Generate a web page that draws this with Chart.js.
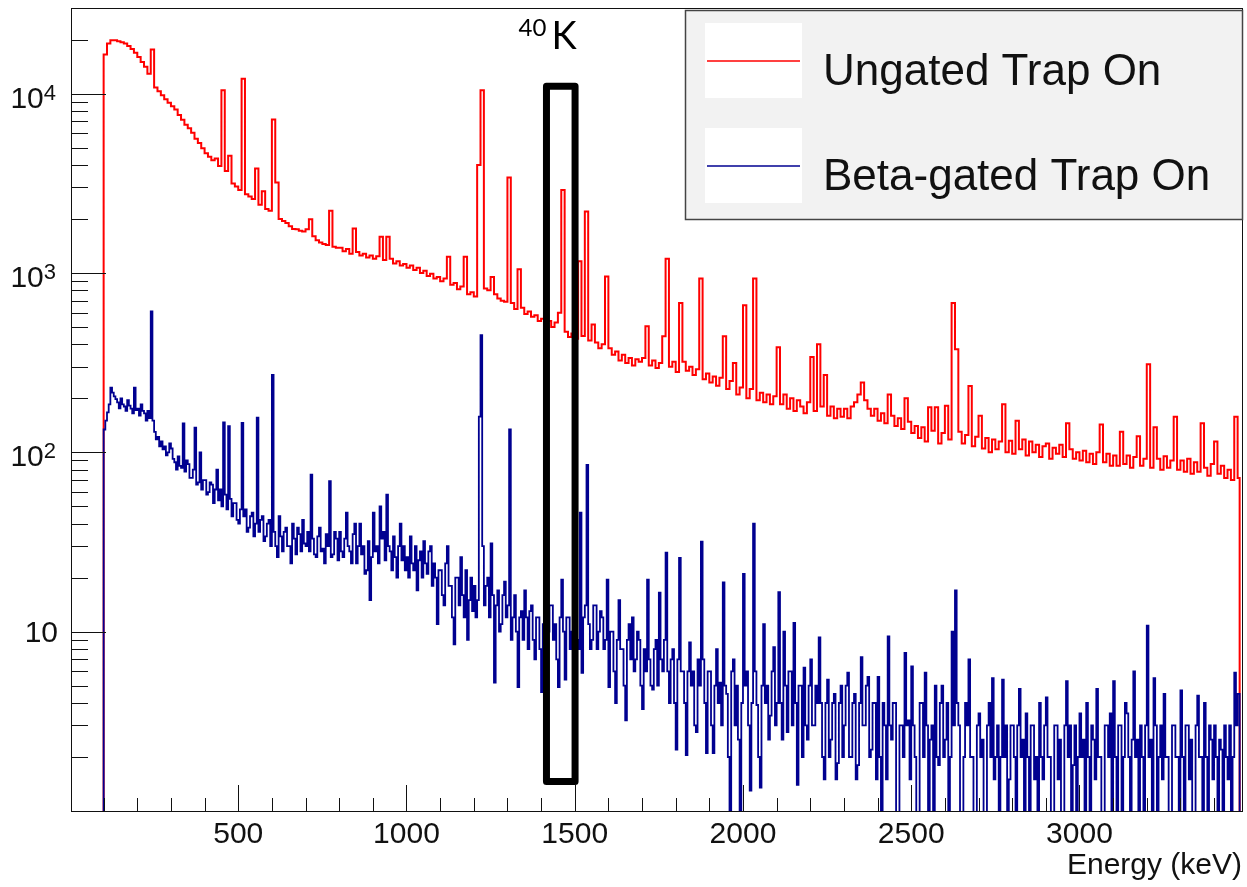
<!DOCTYPE html>
<html>
<head>
<meta charset="utf-8">
<script src="https://cdn.jsdelivr.net/npm/chart.js@4.4.1/dist/chart.umd.min.js"></script>
<style>
  html, body { margin: 0; padding: 0; background: #fff; }
</style>
</head>
<body>
<canvas id="spec" width="1247" height="887"></canvas>
<script>
// --- data: counts per bin (0 = empty bin) ---
const BIN_START = 100; // keV, lower edge of first bin
const LAST_EDGE = 3476; // upper edge of the last bin
const UNGATED_BIN = 10; // keV
const GATED_BIN = 5;    // keV

// ungated, 10 keV bins
const ungated = [
  16500, 19000, 19800, 19800, 19600, 19300, 19000, 18400, 17700, 16900, // 100
  16000, 15000, 14100, 12900, 17600, 10800, 10300, 9800, 9300, 8900,    // 200
  8500, 8150, 7600, 7150, 6700, 6400, 6050, 5600, 5300, 4950,           // 300
  4650, 4450, 4250, 4340, 3950, 10420, 3700, 4500, 3150, 3030,          // 400
  2900, 12100, 2750, 2670, 2580, 3820, 2400, 2850, 2270, 2220,          // 500
  7170, 3190, 2000, 1950, 1900, 1820, 1760, 1750, 1720, 1700,           // 600
  1750, 1990, 1600, 1520, 1480, 1450, 1430, 2220, 1400, 1380,           // 700
  1380, 1320, 1360, 1280, 1770, 1310, 1250, 1280, 1220, 1250,           // 800
  1200, 1240, 1590, 1180, 1590, 1200, 1130, 1160, 1100, 1120,           // 900
  1070, 1100, 1040, 1070, 1000, 1030, 960, 990, 930, 950,               // 1000
  900, 930, 1230, 860, 880, 810, 840, 1230, 760, 780,                   // 1100
  740, 4000, 10440, 820, 800, 950, 760, 720, 700, 690,                  // 1200
  3400, 680, 630, 1050, 640, 590, 610, 570, 580, 540,                   // 1300
  555, 520, 540, 500, 530, 600, 2900, 470, 440, 460,                    // 1400
  430, 1160, 445, 2200, 420, 515, 410, 380, 400, 955,                   // 1500
  380, 350, 365, 325, 350, 315, 335, 305, 330, 320,                     // 1600
  335, 505, 305, 325, 295, 315, 443, 1200, 300, 320,                    // 1700
  280, 680, 320, 285, 300, 270, 290, 930, 255, 275,                     // 1800
  245, 265, 235, 260, 443, 225, 250, 315, 210, 230,                     // 1900
  660, 200, 225, 930, 195, 215, 190, 210, 185, 205,                     // 2000
  385, 185, 210, 175, 200, 170, 195, 180, 165, 190,                     // 2100
  340, 170, 400, 180, 270, 160, 180, 155, 175, 158,                     // 2200
  175, 155, 180, 190, 210, 245, 195, 175, 160, 175,                     // 2300
  150, 165, 145, 210, 160, 140, 155, 135, 200, 148,                     // 2400
  128, 140, 120, 138, 115, 178, 132, 178, 112, 128,                     // 2500
  182, 118, 680, 375, 130, 112, 125, 234, 108, 122,                     // 2600
  160, 105, 120, 100, 118, 104, 115, 185, 100, 116,                     // 2700
  98, 150, 104, 118, 96, 115, 100, 110, 94, 108,                        // 2800
  112, 92, 106, 98, 110, 94, 145, 104, 92, 100,                         // 2900
  90, 102, 88, 98, 86, 100, 143, 88, 98, 84,                            // 3000
  96, 84, 130, 86, 96, 82, 94, 123, 84, 92,                             // 3100
  310, 82, 138, 92, 80, 95, 82, 90, 158, 80,                            // 3200
  90, 78, 92, 76, 88, 78, 145, 82, 74, 86,                              // 3300
  115, 76, 84, 72, 80, 70, 158, 72,                                     // 3400
];

// beta-gated, 5 keV bins
const betaGated = [
  134, 150, 167, 185, 229, 215, 205, 198, 190, 176, 200, 185, 180, 170, 195, 182, 175, 165, 229, 172, // 100
  175, 160, 185, 170, 165, 150, 170, 155, 610, 150, 130, 118, 122, 108, 115, 104, 108, 96, 100, 112,  // 200
  105, 92, 88, 80, 95, 84, 82, 145, 78, 90, 86, 72, 72, 80, 137, 66, 68, 100, 62, 70,                 // 300
  70, 58, 60, 68, 66, 52, 62, 80, 54, 62, 50, 147, 58, 48, 140, 55, 44, 52, 52, 42,                   // 400
  40, 48, 146, 44, 48, 36, 38, 44, 46, 34, 40, 156, 36, 42, 44, 32, 34, 40, 42, 30,                   // 500
  270, 36, 30, 26, 44, 34, 28, 36, 38, 30, 30, 24, 40, 33, 27, 38, 35, 28, 42, 31,                    // 600
  30, 36, 28, 75, 33, 27, 26, 34, 38, 28, 29, 24, 35, 30, 69, 26, 27, 36, 33, 25,                     // 700
  36, 28, 26, 33, 46, 30, 28, 24, 35, 40, 24, 30, 40, 27, 30, 21, 22, 32, 15, 26,                     // 800
  46, 28, 30, 24, 50, 33, 36, 25, 58, 30, 28, 22, 34, 26, 20, 30, 40, 25, 30, 22,                     // 900
  26, 20, 34, 24, 22, 30, 17, 25, 28, 20, 32, 24, 21, 28, 30, 18, 24, 20, 11, 22,                     // 1000
  22, 16, 14, 24, 30, 18, 18, 12, 8.5, 20, 20, 14, 26, 16, 12, 22, 9, 15, 20, 13,                     // 1100
  18, 12, 15, 158, 450, 30, 14, 18, 20, 12, 31, 16, 5.2, 14, 17, 10, 11, 16, 19, 12,                  // 1200
  14, 134, 9, 12, 16, 10, 4.9, 12, 13, 9, 17, 12, 8, 13, 14, 9, 7, 12, 12, 8,                         // 1300
  4.6, 11, 12, 8, 10, 14, 14, 9, 11, 7, 4.9, 12, 19.5, 10, 5.4, 12, 12, 8, 10, 13,                    // 1400
  15, 9, 8, 46, 5.9, 12, 14, 85, 11, 8, 9, 14, 14, 8, 10, 13, 12, 8, 9, 19.5,                         // 1500
  4.9, 10, 10, 6, 4.0, 9, 15, 8, 8, 5, 3.2, 9, 11, 7, 12, 6, 7, 10, 9, 5,                             // 1600
  3.7, 8, 6, 19.5, 7, 5, 4.75, 8, 9, 5, 16.5, 7, 6, 9, 27.6, 6, 4, 7, 8, 4,                           // 1700
  2.2, 7, 25.8, 6, 6, 4, 2.05, 6, 8.7, 5, 6, 3, 2.75, 7, 5, 31.8, 7, 4, 2.1, 6,                       // 1800
  6, 3, 2.1, 5, 8, 4, 5.2, 3, 18.8, 5, 4.5, 2, 0, 6, 7, 3, 5, 2.5, 0, 4,                              // 1900
  21, 5, 6, 3, 1.3, 4, 40, 6, 3.9, 2, 1.35, 5, 11, 4, 5, 2.5, 3.4, 6, 8.2, 3,                         // 2000
  4, 16.6, 4, 2.5, 10, 5, 2.75, 6, 6, 3, 11.2, 4, 1.4, 5, 5, 2, 6.3, 3, 2.5, 5,                       // 2100
  7, 3, 3, 5, 4, 9.3, 4, 2, 1.5, 4, 5.4, 2, 2.5, 4, 4.5, 1.5, 1.85, 4, 5, 2,                          // 2200
  3, 5, 5.9, 2, 2, 4, 4.5, 1.5, 1.8, 4, 7.2, 3, 3, 5, 5.6, 2, 2.2, 4, 4, 1.5,                         // 2300
  5.6, 2, 0, 4, 3, 1.5, 9.4, 3, 2.5, 4, 4, 0, 0, 3, 3, 2, 7.6, 3, 3.2, 1.5,                           // 2400
  6.4, 3, 2, 0, 0, 4, 4, 2, 5.9, 3, 0, 2.5, 3, 0, 5, 2, 1.8, 4, 5, 2,                                 // 2500
  2.5, 4, 0, 2, 10, 3, 17, 4, 3, 0, 0, 2, 4, 3, 7, 2, 2, 0, 0, 3,                                     // 2600
  3.5, 2, 2.5, 0, 0, 3, 4, 2, 5.5, 1.5, 2, 3, 0, 2, 5.4, 2, 3, 0, 1.5, 3,                             // 2700
  3, 2, 0, 3, 4.8, 2, 2.5, 0, 3.5, 2, 0, 3, 3, 1.5, 2, 0, 4, 2, 1.5, 3,                               // 2800
  4.3, 2, 2, 0, 0, 3, 3, 1.5, 2.5, 0, 0, 3, 5.3, 2, 3, 0, 1.8, 3, 0, 2,                               // 2900
  3.5, 2, 2.5, 0, 4, 2, 0, 3, 2.5, 1.5, 4.8, 2, 2, 0, 0, 3, 3, 2, 3.5, 0,                             // 3000
  5.3, 2, 0, 3, 3, 0, 2, 4, 3.5, 2, 0, 2.5, 6, 2, 2.5, 0, 3, 2, 0, 3,                                 // 3100
  10.8, 2, 2.5, 0, 5.5, 3, 0, 2, 3, 1.5, 4.5, 2, 2, 0, 0, 3, 3, 2, 2, 0,                              // 3200
  4.7, 2, 0, 3, 3, 1.5, 2.5, 0, 0, 3, 4.4, 2, 2, 0, 4, 2, 0, 3, 2.5, 1.5,                             // 3300
  3, 2, 0, 2.5, 2.2, 0, 3, 2, 1.5, 3, 0, 2, 5.9, 3, 4.5,                                              // 3400
];

const SERIES_LABELS = ["Ungated Trap On", "Beta-gated Trap On"];
const SERIES_COLORS = ["#ff0000", "#000090"];

const X_TICK_VALUES = [500, 1000, 1500, 2000, 2500, 3000];
const X_TICK_LABELS = ["500", "1000", "1500", "2000", "2500", "3000"];
const Y_TICK_VALUES = [10, 100, 1000, 10000];
const Y_TICK_BASES = ["10", "10", "10", "10"];
const Y_TICK_EXPONENTS = ["", "2", "3", "4"];

// 40K window marked on the plot (keV, counts)
const K40_BOX = { x0: 1416, x1: 1501, yTop: 11000, yBottom: 1.46 };

const X_MIN = 3, X_MAX = 3483, Y_MIN = 1, Y_MAX = 30000;
const EMPTY = 0.5; // empty bins drop below the axis on a log scale

const FONT = "'Liberation Sans', Arial, sans-serif";

// histogram -> stepped line points (vertical edges at both ends)
function toSteps(counts, width) {
  const pts = [{ x: BIN_START, y: EMPTY }];
  counts.forEach((c, i) => pts.push({ x: BIN_START + i * width, y: c > 0 ? c : EMPTY }));
  const last = counts[counts.length - 1];
  pts.push({ x: LAST_EDGE, y: last > 0 ? last : EMPTY });
  pts.push({ x: LAST_EDGE, y: EMPTY });
  return pts;
}

// ROOT-like frame, inward ticks, y labels with exponents, the 40K box
const rootFrame = {
  id: "rootFrame",
  afterDatasetsDraw(chart) {
    const { ctx, chartArea: a, scales: { x, y } } = chart;
    ctx.save();
    ctx.strokeStyle = "#111";
    ctx.lineWidth = 1;
    ctx.beginPath();
    for (const t of x.ticks) {
      const px = Math.round(x.getPixelForValue(t.value)) + 0.5;
      const len = t.value % 500 === 0 ? 26 : 13;
      ctx.moveTo(px, a.bottom);
      ctx.lineTo(px, a.bottom - len);
    }
    for (const t of y.ticks) {
      const py = Math.round(y.getPixelForValue(t.value)) + 0.5;
      const len = Y_TICK_VALUES.includes(t.value) ? 35 : 17;
      ctx.moveTo(a.left, py);
      ctx.lineTo(a.left + len, py);
    }
    ctx.stroke();
    ctx.strokeRect(Math.round(a.left) + 0.5, Math.round(a.top) + 0.5, Math.round(a.right - a.left), Math.round(a.bottom - a.top));

    // y labels: 10, 10^2, 10^3, 10^4
    ctx.fillStyle = "#111";
    ctx.textAlign = "right";
    ctx.textBaseline = "alphabetic";
    Y_TICK_VALUES.forEach((v, i) => {
      const py = y.getPixelForValue(v);
      const exp = Y_TICK_EXPONENTS[i];
      if (!exp) {
        ctx.font = "30px " + FONT;
        ctx.fillText(Y_TICK_BASES[i], a.left - 13, py + 10.5);
        return;
      }
      ctx.font = "22px " + FONT;
      const ew = ctx.measureText(exp).width;
      ctx.fillText(exp, a.left - 15, py + 6);
      ctx.font = "30px " + FONT;
      ctx.fillText(Y_TICK_BASES[i], a.left - 15 - ew, py + 14);
    });
    ctx.textAlign = "left";

    // 40K window
    const bx0 = x.getPixelForValue(K40_BOX.x0), bx1 = x.getPixelForValue(K40_BOX.x1);
    const by0 = y.getPixelForValue(K40_BOX.yTop), by1 = y.getPixelForValue(K40_BOX.yBottom);
    ctx.strokeStyle = "#000";
    ctx.lineWidth = 7;
    ctx.lineJoin = "round";
    ctx.strokeRect(bx0, by0, bx1 - bx0, by1 - by0);

    ctx.fillStyle = "#000";
    ctx.font = "38px Lato";
    ctx.fillText("K", bx0 + 5, by0 - 37);
    ctx.font = "24px Lato";
    ctx.fillText("40", bx0 - 28, by0 - 50);
    ctx.restore();
  },
};

const rootLegend = {
  id: "rootLegend",
  afterDraw(chart) {
    const { ctx, chartArea: a } = chart;
    const left = 685.5, top = 10.5, right = Math.round(a.right) + 0.5, bottom = 219.5;
    ctx.save();
    ctx.fillStyle = "#f2f2f2";
    ctx.fillRect(left, top, right - left, bottom - top);
    ctx.strokeStyle = "#444";
    ctx.lineWidth = 1.5;
    ctx.strokeRect(left, top, right - left, bottom - top);
    chart.data.datasets.forEach((ds, i) => {
      const rowTop = 23 + i * 105;
      ctx.fillStyle = "#fff";
      ctx.fillRect(705, rowTop, 97, 75);
      ctx.strokeStyle = SERIES_COLORS[i];
      ctx.lineWidth = 1.6;
      ctx.beginPath();
      ctx.moveTo(707, rowTop + 38);
      ctx.lineTo(800, rowTop + 38);
      ctx.stroke();
      ctx.fillStyle = "#111";
      ctx.font = "44px " + FONT;
      ctx.textBaseline = "alphabetic";
      ctx.fillText(ds.label, 823, rowTop + 62);
    });
    ctx.restore();
  },
};

const tickFont = { family: FONT, size: 30 };

new Chart(document.getElementById("spec"), {
  type: "line",
  data: {
    datasets: [
      { label: SERIES_LABELS[0], data: toSteps(ungated, UNGATED_BIN), borderColor: SERIES_COLORS[0], borderWidth: 2, stepped: true, pointRadius: 0, order: 2 },
      { label: SERIES_LABELS[1], data: toSteps(betaGated, GATED_BIN), borderColor: SERIES_COLORS[1], borderWidth: 1.8, stepped: true, pointRadius: 0, order: 1 },
    ],
  },
  options: {
    responsive: false,
    animation: false,
    events: [],
    layout: { padding: { top: 8, right: 5, left: 0, bottom: 0 } },
    plugins: { legend: { display: false }, tooltip: { enabled: false } },
    scales: {
      x: {
        type: "linear",
        min: X_MIN,
        max: X_MAX,
        grid: { display: false, drawTicks: false },
        border: { display: false },
        afterBuildTicks: (s) => {
          const t = [];
          for (let v = 100; v <= 3400; v += 100) t.push({ value: v });
          s.ticks = t;
        },
        ticks: {
          autoSkip: false,
          maxRotation: 0,
          padding: 6,
          color: "#111",
          font: tickFont,
          callback: (v) => {
            const i = X_TICK_VALUES.indexOf(v);
            return i >= 0 ? X_TICK_LABELS[i] : "";
          },
        },
        title: { display: true, text: "Energy (keV)", align: "end", color: "#111", font: tickFont, padding: { top: 0, bottom: 3 } },
        afterFit: (s) => {
          s.height = 76;
          s.paddingLeft = 0;
          s.paddingRight = 0;
        },
      },
      y: {
        type: "logarithmic",
        min: Y_MIN,
        max: Y_MAX,
        grid: { display: false, drawTicks: false },
        border: { display: false },
        afterBuildTicks: (s) => {
          const t = [];
          for (let p = 1; p <= 10000; p *= 10) {
            for (let d = 1; d <= 9; d++) if (d * p <= Y_MAX) t.push({ value: d * p });
          }
          s.ticks = t;
        },
        ticks: { display: false, autoSkip: false },
        afterFit: (s) => {
          s.width = 71;
          s.paddingTop = 0;
          s.paddingBottom = 0;
        },
      },
    },
  },
  plugins: [rootFrame, rootLegend],
});
</script>
</body>
</html>
